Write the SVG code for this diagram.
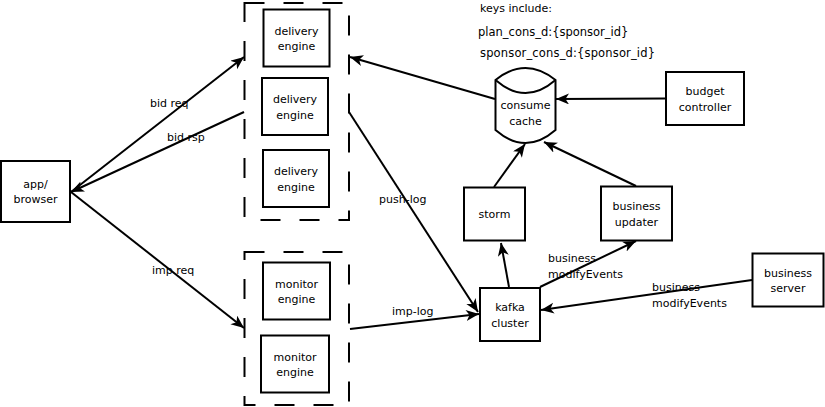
<svg xmlns="http://www.w3.org/2000/svg" width="825" height="407" viewBox="0 0 825 407">
<style>
  .box{fill:#fff;stroke:#000;stroke-width:2}
  .grp{fill:none;stroke:#000;stroke-width:2;stroke-dasharray:20 19}
  .ln{fill:none;stroke:#000;stroke-width:2}
  text{font-family:"DejaVu Sans",Verdana,sans-serif;font-size:11px;fill:#000}
  .c{text-anchor:middle}
  .k{font-size:11.5px}
</style>
<defs>
  <marker id="arr" markerUnits="userSpaceOnUse" markerWidth="14" markerHeight="12" refX="13" refY="5.5" orient="auto" viewBox="0 0 14 12">
    <path d="M0,0 L13,5.5 L0,11 L3.5,5.5 Z" fill="#000"/>
  </marker>
</defs>
<rect width="825" height="407" fill="#fff"/>

<g id="delivery-group"><rect class="grp" x="244.5" y="3" width="104.5" height="217"/></g>
<g id="monitor-group"><rect class="grp" x="244.5" y="252" width="104.5" height="153"/></g>

<g id="connectors">
  <line class="ln" x1="71" y1="192" x2="244" y2="57" marker-end="url(#arr)"/>
  <line class="ln" x1="244" y1="112" x2="71" y2="192" marker-end="url(#arr)"/>
  <line class="ln" x1="71" y1="192" x2="244" y2="328" marker-end="url(#arr)"/>
  <line class="ln" x1="495" y1="99" x2="350" y2="57" marker-end="url(#arr)"/>
  <line class="ln" x1="665" y1="98.5" x2="556" y2="99" marker-end="url(#arr)"/>
  <line class="ln" x1="494" y1="187" x2="525" y2="144" marker-end="url(#arr)"/>
  <line class="ln" x1="636" y1="186" x2="544" y2="142" marker-end="url(#arr)"/>
  <line class="ln" x1="349" y1="112" x2="478" y2="312" marker-end="url(#arr)"/>
  <line class="ln" x1="350" y1="329" x2="479" y2="314" marker-end="url(#arr)"/>
  <line class="ln" x1="509" y1="287" x2="501" y2="243" marker-end="url(#arr)"/>
  <line class="ln" x1="540" y1="287" x2="636" y2="241" marker-end="url(#arr)"/>
  <line class="ln" x1="752" y1="280" x2="541" y2="310" marker-end="url(#arr)"/>
  <text x="150" y="107">bid req</text>
  <text x="167" y="141">bid rsp</text>
  <text x="152" y="273.5">imp req</text>
  <text x="379" y="203">push-log</text>
  <text x="392" y="315">imp-log</text>
  <text x="548" y="261.5">business</text>
  <text x="548" y="278">modifyEvents</text>
  <text x="652" y="291">business</text>
  <text x="652" y="307">modifyEvents</text>
</g>

<g id="notes">
  <text x="480" y="12">keys include:</text>
  <text class="k" x="478" y="36">plan_cons_d:{sponsor_id}</text>
  <text class="k" x="480" y="57" textLength="175">sponsor_cons_d:{sponsor_id}</text>
</g>

<g id="app-browser"><rect class="box" x="1" y="161" width="69" height="61"/>
  <text class="c" x="35.5" y="188">app/</text><text class="c" x="35.5" y="203">browser</text></g>
<g id="delivery-engine-1"><rect class="box" x="263.5" y="9.5" width="66" height="57"/>
  <text class="c" x="296.5" y="34.5">delivery</text><text class="c" x="296.5" y="50">engine</text></g>
<g id="delivery-engine-2"><rect class="box" x="262" y="78" width="66" height="57"/>
  <text class="c" x="295" y="103">delivery</text><text class="c" x="295" y="118.5">engine</text></g>
<g id="delivery-engine-3"><rect class="box" x="263" y="150" width="66" height="57"/>
  <text class="c" x="296" y="175">delivery</text><text class="c" x="296" y="190.5">engine</text></g>
<g id="monitor-engine-1"><rect class="box" x="263" y="262.5" width="67" height="57"/>
  <text class="c" x="296.5" y="287.5">monitor</text><text class="c" x="296.5" y="303">engine</text></g>
<g id="monitor-engine-2"><rect class="box" x="261" y="335.5" width="68" height="57"/>
  <text class="c" x="295" y="360.5">monitor</text><text class="c" x="295" y="376">engine</text></g>
<g id="consume-cache">
  <path class="box" d="M495.5,80 Q525.5,56 555.5,80 L555.5,130 Q525.5,156 495.5,130 Z"/>
  <path class="ln" d="M495.5,80 Q525.5,106 555.5,80"/>
  <text class="c" x="525.5" y="109">consume</text><text class="c" x="525.5" y="124.5">cache</text></g>
<g id="budget-controller"><rect class="box" x="666" y="72" width="78" height="53"/>
  <text class="c" x="705" y="95">budget</text><text class="c" x="705" y="110.5">controller</text></g>
<g id="storm"><rect class="box" x="464" y="187.5" width="61" height="53"/>
  <text class="c" x="494.5" y="218">storm</text></g>
<g id="business-updater"><rect class="box" x="601" y="186.5" width="71" height="54"/>
  <text class="c" x="636.5" y="210">business</text><text class="c" x="636.5" y="225.5">updater</text></g>
<g id="kafka-cluster"><rect class="box" x="480" y="288" width="60" height="53"/>
  <text class="c" x="510" y="311">kafka</text><text class="c" x="510" y="326.5">cluster</text></g>
<g id="business-server"><rect class="box" x="752.5" y="253.5" width="71" height="53"/>
  <text class="c" x="788" y="276.5">business</text><text class="c" x="788" y="292">server</text></g>
</svg>
